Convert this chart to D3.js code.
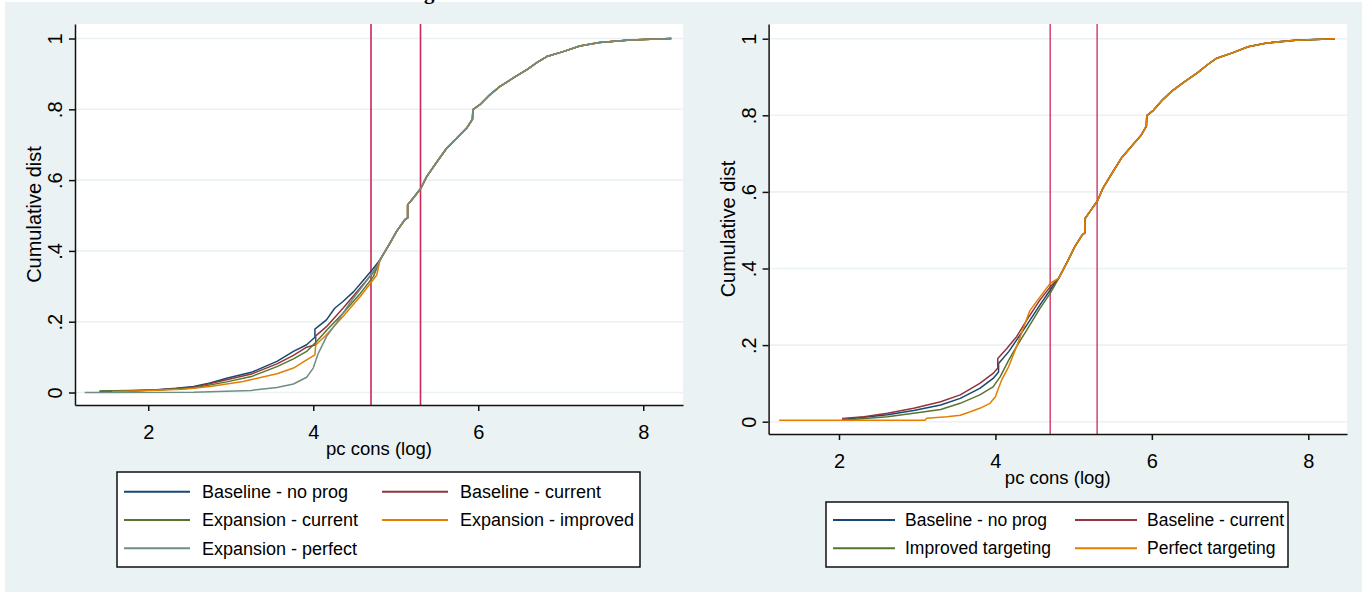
<!DOCTYPE html>
<html>
<head>
<meta charset="utf-8">
<script src="https://cdnjs.cloudflare.com/ajax/libs/d3/7.8.5/d3.min.js"></script>
<style>
  body { margin: 0; background: #fff; }
  text { font-family: "Liberation Sans", Arial, sans-serif; fill: #000; }
</style>
</head>
<body>
<div class="chart"></div>
<script>
var svgWidth = 1367;
var svgHeight = 592;

// axis ticks
var xTicks = [2, 4, 6, 8];
var yTicks = [0, 0.2, 0.4, 0.6, 0.8, 1];
var yTickLabels = ["0", ".2", ".4", ".6", ".8", "1"];

// the two vertical reference lines (log pc cons)
var refLines = [4.70, 5.30];

// upper part of the cdf, where all scenarios coincide
var upperCdf = [
  [4.81, 0.375], [4.93, 0.422], [5.01, 0.455], [5.11, 0.488], [5.144, 0.493],
  [5.144, 0.530], [5.21, 0.549], [5.305, 0.577], [5.375, 0.610], [5.50, 0.652],
  [5.617, 0.690], [5.74, 0.719], [5.86, 0.747], [5.93, 0.772], [5.935, 0.799],
  [6.02, 0.813], [6.14, 0.841], [6.26, 0.864], [6.42, 0.888], [6.59, 0.912],
  [6.71, 0.932], [6.83, 0.949], [7.03, 0.963], [7.23, 0.979], [7.47, 0.989],
  [7.84, 0.996], [8.34, 1.0]
];

// left panel, lower tails
var leftNoProg = [
  [1.41, 0.003], [1.8, 0.004], [2.1, 0.008], [2.34, 0.012], [2.55, 0.017],
  [2.75, 0.027], [2.95, 0.040], [3.25, 0.057], [3.56, 0.088], [3.76, 0.116],
  [3.92, 0.135], [4.02, 0.156], [4.02, 0.179], [4.16, 0.205], [4.26, 0.238],
  [4.36, 0.257], [4.49, 0.285], [4.61, 0.318], [4.73, 0.351]
];
var leftCurrent = [
  [1.41, 0.003], [2.1, 0.007], [2.55, 0.015], [2.95, 0.036], [3.25, 0.052],
  [3.56, 0.081], [3.76, 0.105], [3.92, 0.128], [4.03, 0.135], [4.03, 0.160],
  [4.16, 0.186], [4.36, 0.238], [4.55, 0.290], [4.72, 0.337]
];
var leftExpCurrent = [
  [1.41, 0.004], [2.1, 0.007], [2.55, 0.013], [2.95, 0.030], [3.25, 0.045],
  [3.56, 0.073], [3.76, 0.095], [3.92, 0.116], [4.04, 0.144], [4.16, 0.175],
  [4.36, 0.224], [4.57, 0.280], [4.73, 0.328]
];
var leftExpImproved = [
  [1.56, 0.002], [2.42, 0.009], [2.75, 0.017], [3.15, 0.031], [3.56, 0.053],
  [3.76, 0.069], [3.92, 0.092], [4.02, 0.106], [4.03, 0.134], [4.16, 0.163],
  [4.36, 0.215], [4.57, 0.271], [4.77, 0.332]
];
var leftExpPerfect = [
  [1.23, 0.0], [2.55, 0.001], [3.25, 0.006], [3.56, 0.014], [3.76, 0.024],
  [3.92, 0.043], [4.0, 0.069], [4.06, 0.110], [4.16, 0.158], [4.28, 0.196],
  [4.44, 0.252], [4.61, 0.304], [4.77, 0.356]
];

// right panel, lower tails
var rightNoProg = [
  [2.04, 0.006], [2.62, 0.018], [2.955, 0.029], [3.30, 0.0435], [3.55, 0.061],
  [3.80, 0.087], [3.97, 0.113], [4.04, 0.130], [4.04, 0.152], [4.17, 0.183],
  [4.27, 0.213], [4.40, 0.252], [4.57, 0.305], [4.70, 0.344]
];
var rightCurrent = [
  [2.04, 0.0087], [2.32, 0.013], [2.62, 0.022], [2.955, 0.035], [3.30, 0.052],
  [3.55, 0.070], [3.80, 0.100], [3.97, 0.126], [4.03, 0.140], [4.03, 0.165],
  [4.14, 0.190], [4.27, 0.222], [4.40, 0.265], [4.57, 0.318], [4.70, 0.352]
];
var rightImproved = [
  [2.04, 0.004], [2.62, 0.013], [2.955, 0.022], [3.30, 0.032], [3.55, 0.048],
  [3.80, 0.070], [3.97, 0.091], [4.06, 0.117], [4.17, 0.161], [4.27, 0.196],
  [4.40, 0.239], [4.57, 0.296], [4.70, 0.335]
];
var rightPerfect = [
  [1.235, 0.0035], [3.10, 0.0035], [3.12, 0.009], [3.38, 0.013], [3.55, 0.017],
  [3.68, 0.026], [3.80, 0.035], [3.93, 0.048], [4.0, 0.065], [4.03, 0.083],
  [4.08, 0.109], [4.17, 0.144], [4.27, 0.196], [4.38, 0.257], [4.44, 0.290],
  [4.57, 0.326], [4.70, 0.361]
];

var leftLabels = ["Baseline - no prog", "Baseline - current", "Expansion - current",
  "Expansion - improved", "Expansion - perfect"];
var rightLabels = ["Baseline - no prog", "Baseline - current", "Improved targeting",
  "Perfect targeting"];

var leftColors = ["#1a476f", "#90353b", "#55752f", "#e37e00", "#6e8e84"];
var rightColors = ["#1a476f", "#90353b", "#55752f", "#e37e00"];

var svg = d3.select(".chart")
  .append("svg")
  .attr("width", svgWidth)
  .attr("height", svgHeight);

// graph region background
svg.append("rect")
  .attr("x", 5).attr("y", 2)
  .attr("width", 1357).attr("height", 590)
  .attr("fill", "#eaf2f3");

// cut-off title from above
svg.append("text")
  .attr("x", 424).attr("y", -1.5)
  .style("font-family", "'Liberation Serif', serif")
  .style("font-weight", "bold")
  .attr("font-size", "21px")
  .text("g");

function drawPanel(p) {
  var x = d3.scaleLinear().domain(p.xDomain).range([p.left, p.right]);
  var y = d3.scaleLinear().domain(p.yDomain).range([p.bottom, p.top]);

  // plot region
  svg.append("rect")
    .attr("x", p.left).attr("y", p.top)
    .attr("width", p.right - p.left).attr("height", p.bottom - p.top)
    .attr("fill", "#fff");

  // gridlines
  svg.append("g").selectAll("line")
    .data(yTicks)
    .enter().append("line")
    .attr("x1", p.left).attr("x2", p.right)
    .attr("y1", d => y(d)).attr("y2", d => y(d))
    .attr("stroke", "#eaf2f3")
    .attr("stroke-width", 1.6);

  // vertical reference lines
  svg.append("g").selectAll("line")
    .data(refLines)
    .enter().append("line")
    .attr("x1", d => x(d)).attr("x2", d => x(d))
    .attr("y1", p.top).attr("y2", p.bottom)
    .attr("stroke", "#c8285a")
    .attr("stroke-width", p.refWidth);

  // cdf curves
  var line = d3.line()
    .x(d => x(d[0]))
    .y(d => y(d[1]));

  svg.append("g").selectAll("path")
    .data(p.curves)
    .enter().append("path")
    .attr("d", d => line(d.concat(upperCdf)))
    .attr("fill", "none")
    .attr("stroke", (d, i) => p.colors[i])
    .attr("stroke-width", 1.5)
    .attr("stroke-linejoin", "round");

  // x axis
  var bottomAxis = d3.axisBottom(x)
    .tickValues(xTicks)
    .tickSize(6)
    .tickSizeOuter(0)
    .tickFormat(d3.format("d"));

  var xAxis = svg.append("g")
    .attr("transform", `translate(0, ${p.bottom})`)
    .call(bottomAxis);
  xAxis.selectAll("text")
    .attr("y", 34).attr("dy", 0)
    .attr("font-size", "20px")
    .style("font-family", "'Liberation Sans', Arial, sans-serif");

  // y axis, labels turned like stata does
  var leftAxis = d3.axisLeft(y)
    .tickValues(yTicks)
    .tickSize(6)
    .tickSizeOuter(0)
    .tickFormat((d, i) => yTickLabels[i]);

  var yAxis = svg.append("g")
    .attr("transform", `translate(${p.left}, 0)`)
    .call(leftAxis);
  yAxis.selectAll("text")
    .attr("transform", "rotate(-90)")
    .attr("x", 0).attr("y", -13).attr("dy", 0)
    .attr("text-anchor", "middle")
    .attr("font-size", "20px")
    .style("font-family", "'Liberation Sans', Arial, sans-serif");

  svg.selectAll(".domain, .tick line")
    .attr("stroke", "#111")
    .attr("stroke-width", 1.5);

  // axis titles
  svg.append("text")
    .attr("x", (p.left + p.right) / 2)
    .attr("y", p.bottom + 50)
    .attr("text-anchor", "middle")
    .attr("font-size", "18.5px")
    .text("pc cons (log)");

  svg.append("text")
    .attr("transform", `translate(${p.left - 34}, ${(p.top + p.bottom) / 2}) rotate(-90)`)
    .attr("text-anchor", "middle")
    .attr("font-size", "20px")
    .text("Cumulative dist");

  // legend
  var lg = p.legend;
  var legendGroup = svg.append("g")
    .attr("transform", `translate(${lg.x}, ${lg.y})`);

  legendGroup.append("rect")
    .attr("x", 0).attr("y", 0)
    .attr("width", lg.w).attr("height", lg.h)
    .attr("fill", "#fff")
    .attr("stroke", "#111")
    .attr("stroke-width", 1.5);

  var items = legendGroup.selectAll(".item")
    .data(p.labels)
    .enter().append("g")
    .attr("class", "item")
    .attr("transform", (d, i) => `translate(${lg.colX[i % 2]}, ${lg.rowY[Math.floor(i / 2)]})`);

  items.append("line")
    .attr("x1", 0).attr("x2", lg.lineW)
    .attr("y1", 0).attr("y2", 0)
    .attr("stroke", (d, i) => p.colors[i])
    .attr("stroke-width", 2);

  items.append("text")
    .attr("x", lg.textX)
    .attr("dy", "0.35em")
    .attr("font-size", lg.fontSize)
    .text(d => d);
}

drawPanel({
  left: 75, right: 683, top: 24, bottom: 405,
  xDomain: [1.112, 8.482], yDomain: [-0.0353, 1.041],
  curves: [leftNoProg, leftCurrent, leftExpCurrent, leftExpImproved, leftExpPerfect],
  colors: leftColors, labels: leftLabels, refWidth: 1.6,
  legend: { x: 117, y: 472, w: 523, h: 95, colX: [7, 265], rowY: [19.7, 48, 76.3],
    lineW: 66, textX: 78, fontSize: "18px" }
});

drawPanel({
  left: 768.6, right: 1347, top: 24, bottom: 434,
  xDomain: [1.100, 8.495], yDomain: [-0.0321, 1.0384],
  curves: [rightNoProg, rightCurrent, rightImproved, rightPerfect],
  colors: rightColors, labels: rightLabels, refWidth: 1.3,
  legend: { x: 826, y: 502, w: 462, h: 65, colX: [7, 249], rowY: [18, 46.3],
    lineW: 62, textX: 72, fontSize: "17.5px" }
});
</script>
</body>
</html>
